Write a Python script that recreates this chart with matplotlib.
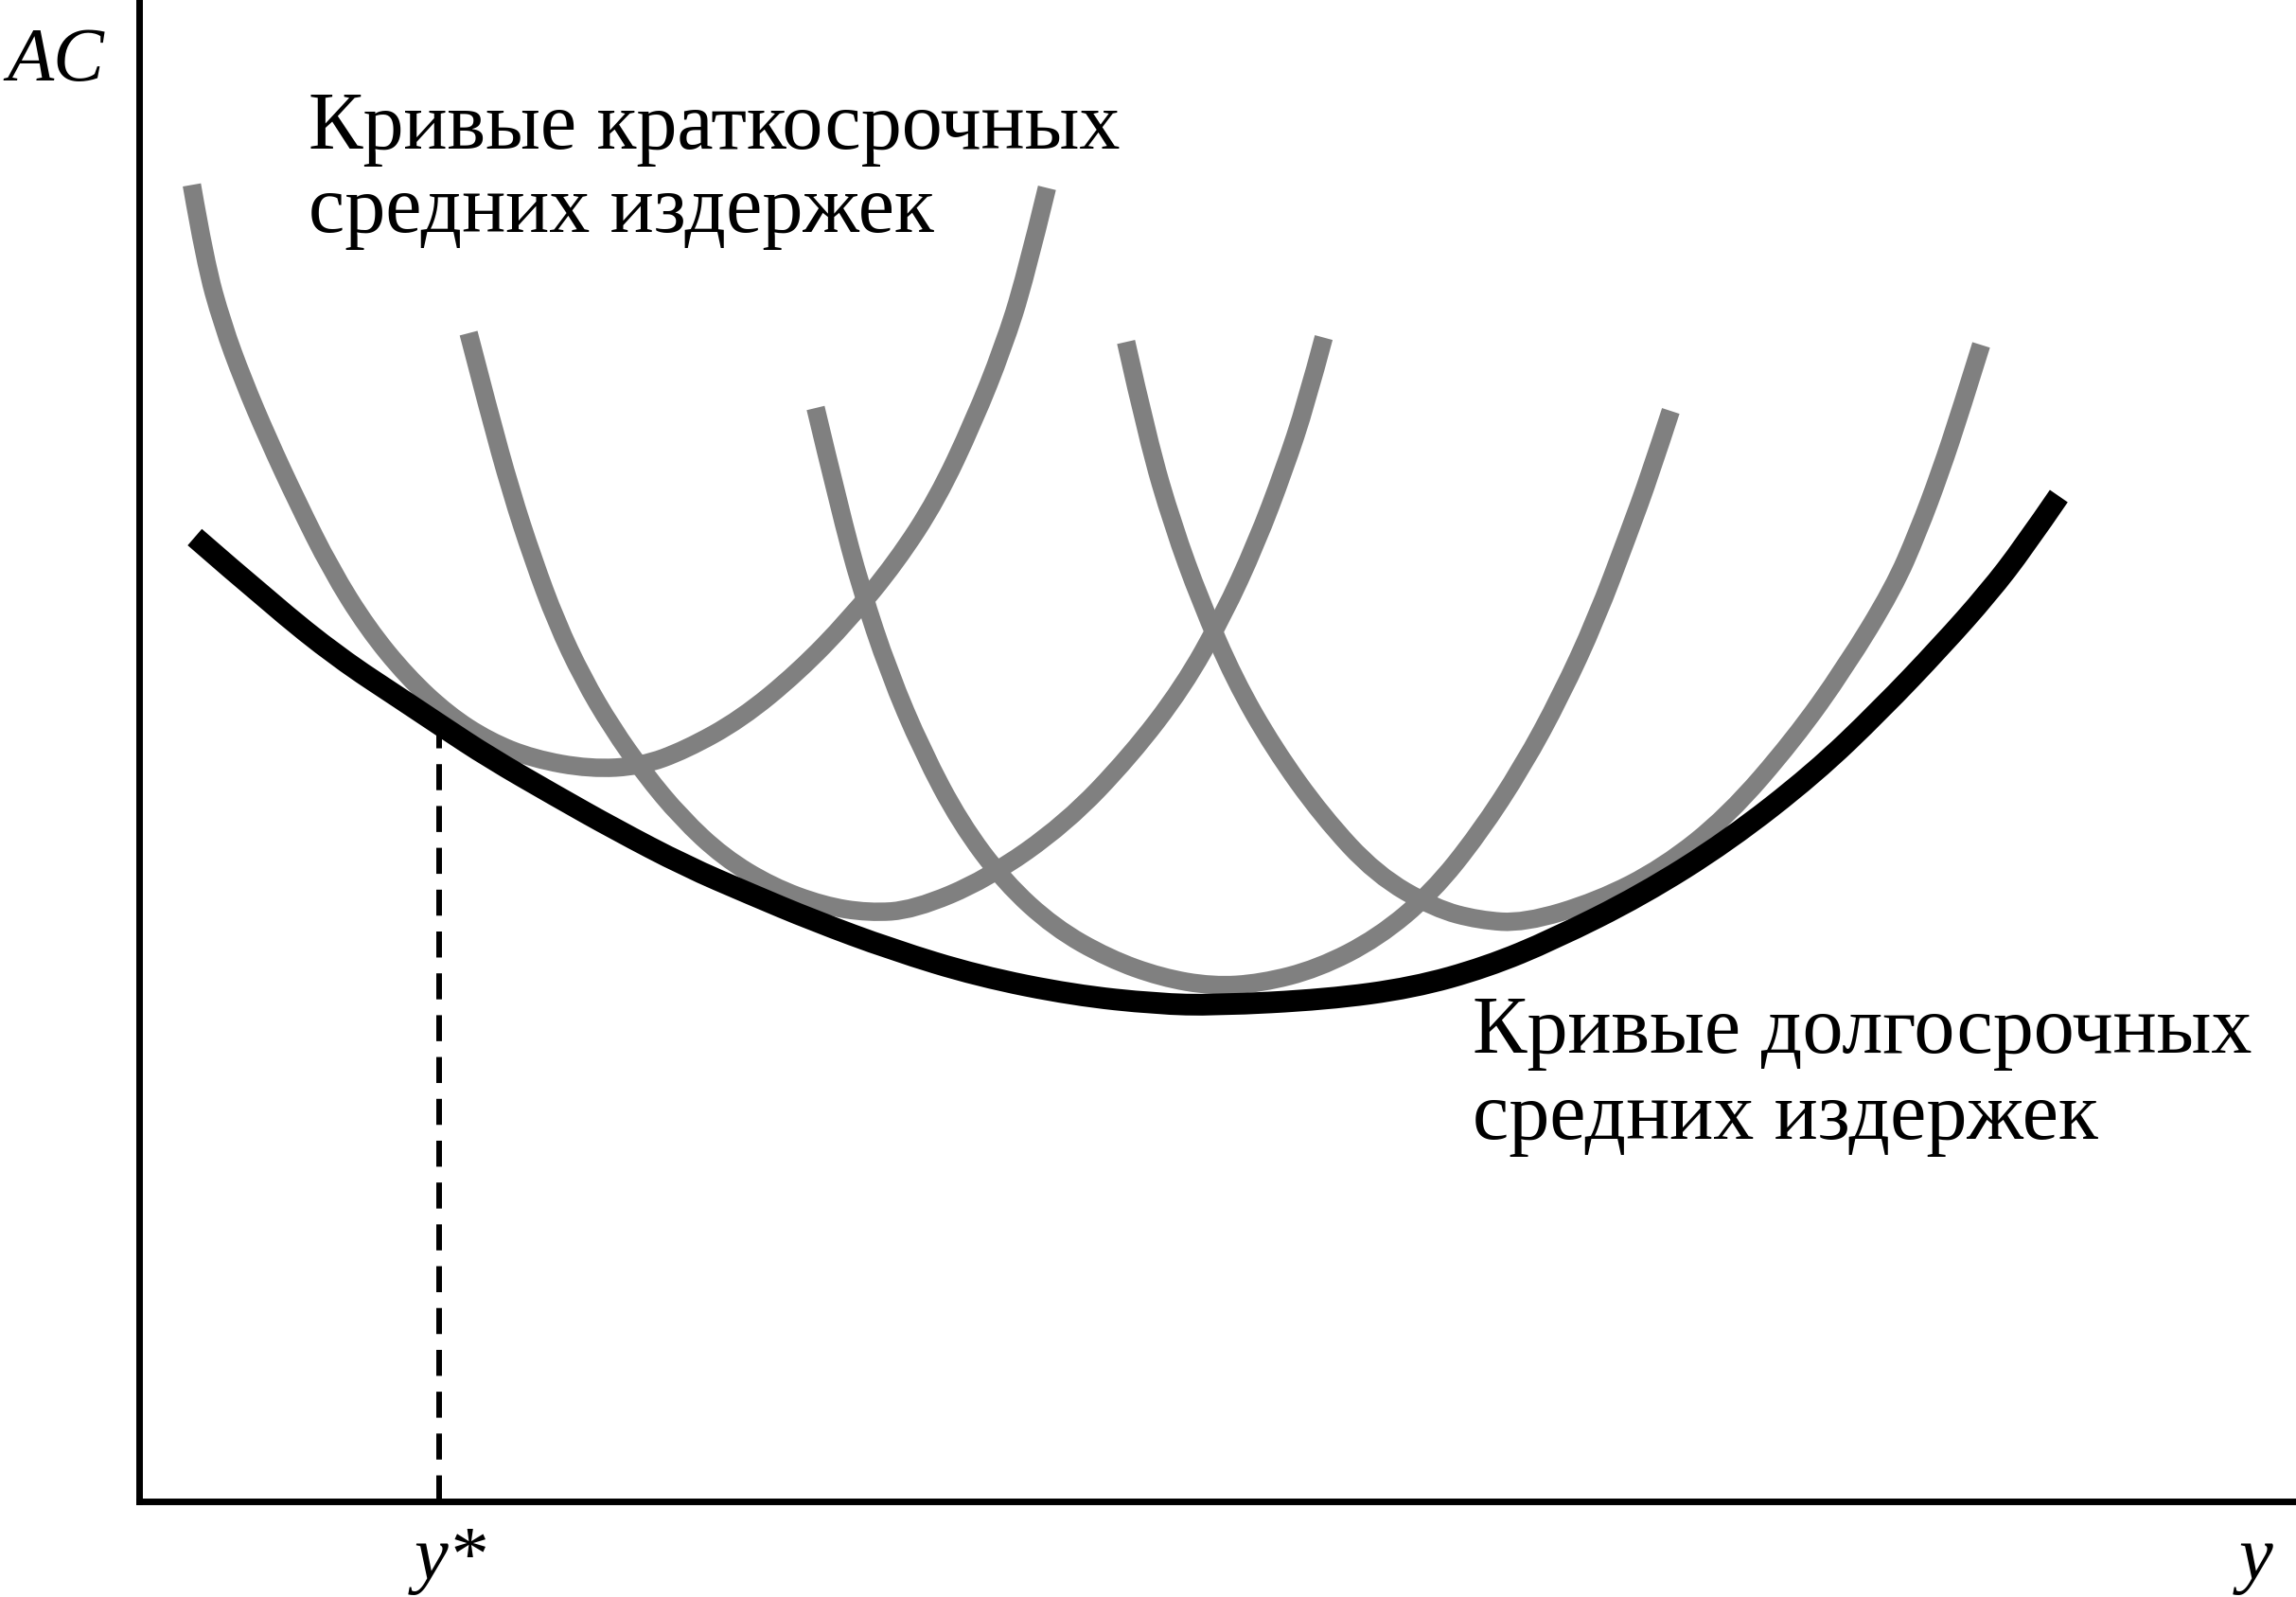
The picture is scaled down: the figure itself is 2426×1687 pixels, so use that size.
import matplotlib
matplotlib.use("Agg")
from matplotlib import pyplot as plt
from matplotlib.path import Path
from matplotlib.patches import PathPatch

# кривые краткосрочных средних издержек
sac1_x = [36, 45, 57, 71, 88, 108, 131, 156, 183, 211, 239, 269, 308, 343, 373, 411, 450, 485, 517, 545, 570, 590, 605, 620]
sac1_y = [897, 845, 802, 764, 724, 681, 635, 595, 562, 536, 518, 506, 499, 501, 512, 533, 565, 601, 640, 683, 736, 786, 833, 895]

sac2_x = [225, 239, 254, 269, 285, 303, 323, 345, 370, 399, 432, 467, 498, 529, 579, 633, 677, 713, 740, 763, 782, 797, 809]
sac2_y = [796, 742, 688, 642, 599, 561, 527, 496, 466, 439, 419, 406, 401, 403, 424, 462, 508, 555, 603, 653, 703, 748, 793]

sac3_x = [462, 478, 493, 512, 535, 561, 591, 625, 662, 698, 733, 766, 805, 846, 883, 915, 945, 971, 995, 1017, 1032, 1046]
sac3_y = [745, 678, 622, 565, 511, 462, 422, 391, 370, 357, 351, 353, 363, 384, 415, 455, 501, 549, 601, 659, 700, 743]

sac4_x = [674, 689, 706, 725, 748, 775, 808, 845, 885, 915, 946, 996, 1041, 1085, 1130, 1165, 1198, 1215, 1230, 1244, 1258]
sac4_y = [790, 723, 665, 613, 560, 513, 467, 427, 404, 396, 394, 409, 432, 467, 519, 568, 622, 661, 701, 743, 788]

# кривая долгосрочных средних издержек
lac_x = [38, 91, 136, 180, 207, 239, 284, 325, 373, 417, 460, 514, 573, 638, 695, 735, 811, 870, 920, 966,
         1026, 1085, 1144, 1189, 1231, 1263, 1287, 1311]
lac_y = [657, 611, 575, 546, 528, 507, 481, 458, 433, 414, 396, 376, 358, 345, 339, 338, 342, 350, 364, 383,
         413, 450, 496, 539, 583, 619, 650, 685]

y_star = 205
ac_star = 528

sr_label = ["Кривые краткосрочных", "средних издержек"]
lr_label = ["Кривые долгосрочных", "средних издержек"]

plt.rcParams["font.family"] = ["Liberation Serif", "DejaVu Serif"]


# плавная кривая через снятые точки (квадратичные Безье)
def smooth_path(xs, ys):
    pts = list(zip(xs, ys))
    verts = [pts[0]]
    codes = [Path.MOVETO]
    for i in range(1, len(pts) - 1):
        if i == len(pts) - 2:
            end = pts[-1]
        else:
            end = ((pts[i][0] + pts[i + 1][0]) / 2, (pts[i][1] + pts[i + 1][1]) / 2)
        verts += [pts[i], end]
        codes += [Path.CURVE3, Path.CURVE3]
    return Path(verts, codes)


fig = plt.figure(figsize=(24.26, 16.87), dpi=100)
ax = fig.add_axes([147 / 2426, 101 / 1687, 2279 / 2426, 1586 / 1687])

for xs, ys in [(sac1_x, sac1_y), (sac2_x, sac2_y), (sac3_x, sac3_y), (sac4_x, sac4_y)]:
    ax.add_patch(PathPatch(smooth_path(xs, ys), fill=False, edgecolor="#808080",
                           lw=14, capstyle="butt", joinstyle="round"))

ax.add_patch(PathPatch(smooth_path(lac_x, lac_y), fill=False, edgecolor="black",
                       lw=16.5, capstyle="butt", joinstyle="round"))

# пунктир от y* до кривой LAC
ax.plot([y_star, y_star], [0, ac_star], color="black", lw=4.3,
        linestyle=(0, (4.6, 2.8)), dash_capstyle="butt")

ax.set_xlim(0, 1473)
ax.set_ylim(0, 1023)
ax.set_xticks([])
ax.set_yticks([])
ax.spines["top"].set_visible(False)
ax.spines["right"].set_visible(False)
ax.spines["left"].set_linewidth(5)
ax.spines["bottom"].set_linewidth(5)

# подписи
ax.text(116, 921.5, sr_label[0], fontsize=62, ha="left", va="baseline")
ax.text(116, 865, sr_label[1], fontsize=62, ha="left", va="baseline")
ax.text(911, 305.5, lr_label[0], fontsize=62, ha="left", va="baseline")
ax.text(911, 247, lr_label[1], fontsize=62, ha="left", va="baseline")

ax.text(-90, 968, "AC", fontsize=58, style="italic", ha="left", va="baseline", clip_on=False)
ax.text(188, -53, "y*", fontsize=58, style="italic", ha="left", va="baseline", clip_on=False)
ax.text(1434, -53, "y", fontsize=58, style="italic", ha="left", va="baseline", clip_on=False)

fig.savefig("out.png", dpi=100)
